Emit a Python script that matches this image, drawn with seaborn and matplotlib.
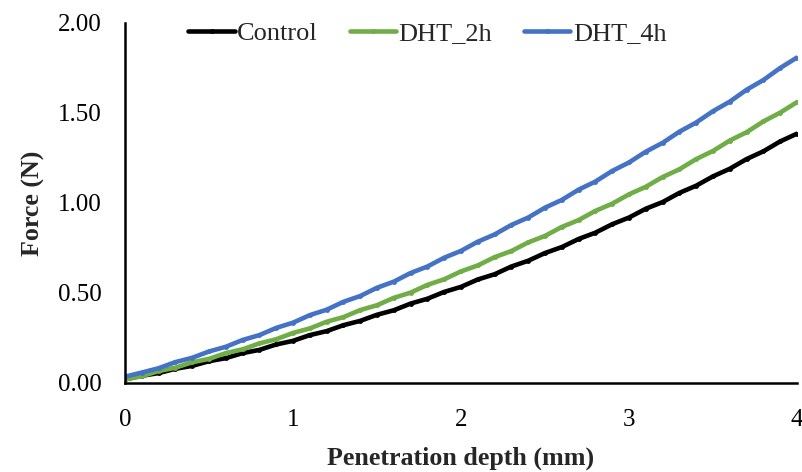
import numpy as np
import pandas as pd
import matplotlib
matplotlib.use("Agg")
import matplotlib.pyplot as plt
import seaborn as sns

depth = [0.0, 0.1, 0.2, 0.3, 0.4, 0.5, 0.6, 0.7, 0.8, 0.9,
         1.0, 1.1, 1.2, 1.3, 1.4, 1.5, 1.6, 1.7, 1.8, 1.9,
         2.0, 2.1, 2.2, 2.3, 2.4, 2.5, 2.6, 2.7, 2.8, 2.9,
         3.0, 3.1, 3.2, 3.3, 3.4, 3.5, 3.6, 3.7, 3.8, 3.9, 4.0]

control = [0.020, 0.040, 0.055, 0.079, 0.095, 0.121, 0.138, 0.166, 0.184, 0.214,
           0.234, 0.266, 0.288, 0.321, 0.345, 0.379, 0.404, 0.441, 0.468, 0.506,
           0.534, 0.575, 0.604, 0.647, 0.679, 0.722, 0.755, 0.800, 0.835, 0.882,
           0.919, 0.968, 1.005, 1.056, 1.096, 1.148, 1.190, 1.244, 1.287, 1.342, 1.385]

dht_2h = [0.020, 0.038, 0.066, 0.085, 0.115, 0.134, 0.166, 0.187, 0.220, 0.243,
          0.278, 0.303, 0.340, 0.366, 0.405, 0.432, 0.473, 0.502, 0.545, 0.576,
          0.620, 0.653, 0.699, 0.733, 0.781, 0.817, 0.867, 0.905, 0.956, 0.996,
          1.048, 1.090, 1.144, 1.187, 1.244, 1.289, 1.347, 1.393, 1.453, 1.502, 1.560]

dht_4h = [0.035, 0.058, 0.082, 0.116, 0.140, 0.175, 0.201, 0.239, 0.266, 0.306,
          0.335, 0.377, 0.407, 0.451, 0.483, 0.529, 0.563, 0.611, 0.647, 0.696,
          0.734, 0.785, 0.825, 0.878, 0.919, 0.974, 1.017, 1.074, 1.119, 1.178,
          1.225, 1.285, 1.334, 1.396, 1.447, 1.510, 1.563, 1.629, 1.683, 1.750, 1.808]

series = ["Control", "DHT_2h", "DHT_4h"]
colors = ["#000000", "#70AD47", "#4472C4"]

df = pd.concat([
    pd.DataFrame({"Penetration depth (mm)": depth, "Force (N)": control, "Sample": series[0]}),
    pd.DataFrame({"Penetration depth (mm)": depth, "Force (N)": dht_2h, "Sample": series[1]}),
    pd.DataFrame({"Penetration depth (mm)": depth, "Force (N)": dht_4h, "Sample": series[2]}),
])

sns.set_style("white")
plt.rcParams["font.family"] = ["Liberation Serif", "DejaVu Serif"]

fig = plt.figure(figsize=(8.03, 4.72), dpi=100)
ax = fig.add_axes([0.1557, 0.1886, 0.8368, 0.7627])

sns.lineplot(data=df, x="Penetration depth (mm)", y="Force (N)", hue="Sample",
             palette=dict(zip(series, colors)), linewidth=3.3, marker="o",
             markersize=3.5, markeredgewidth=0, ax=ax)

ax.set_xlim(0, 4)
ax.set_ylim(0, 2)
ax.set_xticks([0, 1, 2, 3, 4])
ax.set_yticks([0, 0.5, 1.0, 1.5, 2.0])
ax.set_yticklabels([f"{v:.2f}" for v in [0, 0.5, 1.0, 1.5, 2.0]])
ax.tick_params(axis="both", labelsize=18, direction="out", length=5, width=1.8,
               color="black", labelcolor="black")
ax.tick_params(axis="x", pad=14)
ax.tick_params(axis="y", pad=12)

for s in ["top", "right"]:
    ax.spines[s].set_visible(False)
for s in ["left", "bottom"]:
    ax.spines[s].set_color("black")
    ax.spines[s].set_linewidth(1.8)

ax.set_xlabel("Penetration depth (mm)", fontsize=18.7, fontweight="bold", labelpad=11)
ax.set_ylabel("Force (N)", fontsize=18.7, fontweight="bold", labelpad=9)

handles, labels = ax.get_legend_handles_labels()
leg = ax.legend(handles, labels, loc="center", bbox_to_anchor=(0.450, 0.972),
                ncol=3, frameon=False, fontsize=19, handlelength=1.75,
                handletextpad=0.1, columnspacing=1.2, borderpad=0, borderaxespad=0)

fig.savefig("out.png", dpi=100)
